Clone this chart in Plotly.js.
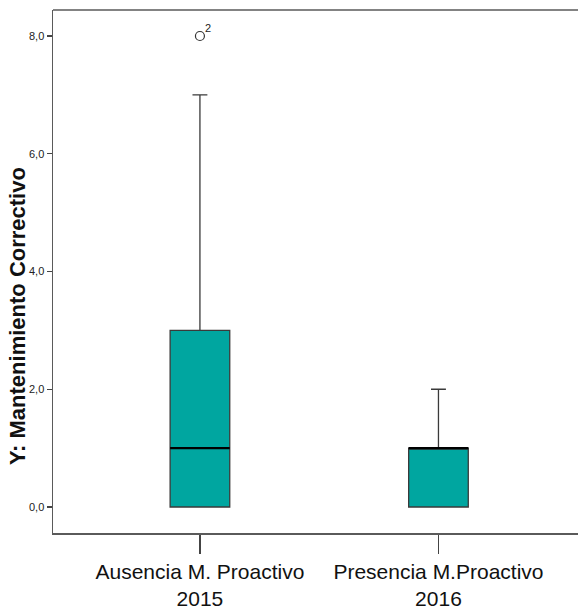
<!DOCTYPE html>
<html>
<head>
<meta charset="utf-8">
<script src="https://cdn.plot.ly/plotly-3.0.1.min.js"></script>
<style>html,body{margin:0;padding:0;background:#fff;overflow:hidden;}#chart{width:578px;height:610px;}</style>
</head>
<body>
<div id="chart"></div>
<script>
// Data
const categories = ['Ausencia M. Proactivo<br>2015', 'Presencia M.Proactivo<br>2016'];
const q1 = [0, 0];
const medians = [1, 1];
const q3 = [3, 1];
const lowerFence = [0, 0];
const upperFence = [7, 2];
const outlierCategory = ['Ausencia M. Proactivo<br>2015'];
const outlierValues = [8];
const outlierIds = ['2'];
const yTicks = [0, 2, 4, 6, 8];

const boxWidth = 0.25;
const fontFamily = 'Liberation Sans, Arial, sans-serif';

const boxTrace = {
  type: 'box',
  x: categories,
  q1: q1,
  median: medians,
  q3: q3,
  lowerfence: lowerFence,
  upperfence: upperFence,
  width: boxWidth,
  whiskerwidth: 0.25,
  fillcolor: '#00A6A0',
  line: {color: '#3a3a3a', width: 1.3},
  boxpoints: false,
  hoverinfo: 'skip'
};

const outlierTrace = {
  type: 'scatter',
  mode: 'markers',
  x: outlierCategory,
  y: outlierValues,
  marker: {symbol: 'circle-open', size: 9, color: '#333', line: {width: 1.2, color: '#333'}},
  hoverinfo: 'skip'
};

const medianShapes = medians.map((m, i) => ({
  type: 'line', xref: 'x', yref: 'y',
  x0: i - boxWidth / 2, x1: i + boxWidth / 2,
  y0: m, y1: m,
  line: {color: '#000', width: 2.2}
}));

const frameShapes = [{
  type: 'line', xref: 'paper', yref: 'paper',
  x0: 0, x1: 1.02, y0: 1, y1: 1,
  line: {color: '#5a5a5a', width: 1.5}
}];

const outlierLabels = outlierValues.map((v, i) => ({
  x: outlierCategory[i], y: v, xref: 'x', yref: 'y',
  text: outlierIds[i], showarrow: false,
  xshift: 8, yshift: 8,
  font: {family: fontFamily, size: 11, color: '#222'}
}));

const layout = {
  width: 578, height: 610,
  margin: {l: 53, r: 0, t: 10, b: 77, pad: 0},
  paper_bgcolor: '#fff', plot_bgcolor: '#fff',
  showlegend: false,
  separators: ',.',
  font: {family: fontFamily, color: '#222'},
  xaxis: {
    type: 'category',
    range: [-0.616, 1.585],
    showline: true, mirror: false, linecolor: '#5a5a5a', linewidth: 1.5,
    showgrid: false, zeroline: false,
    ticks: 'outside', ticklen: 19, tickwidth: 1.3, tickcolor: '#444',
    tickfont: {family: fontFamily, size: 21, color: '#111'}
  },
  yaxis: {
    range: [-0.4416, 8.4416],
    tickvals: yTicks,
    tickformat: '.1f',
    showline: true, mirror: false, linecolor: '#5a5a5a', linewidth: 1.5,
    showgrid: false, zeroline: false,
    ticks: 'outside', ticklen: 5, tickwidth: 1.2, tickcolor: '#444',
    tickfont: {family: fontFamily, size: 11, color: '#222'}
  },
  shapes: frameShapes.concat(medianShapes),
  annotations: outlierLabels.concat([{
    xref: 'paper', yref: 'paper',
    x: -0.0667, y: 0.415, xanchor: 'center', yanchor: 'middle',
    text: '<b>Y: Mantenimiento Correctivo</b>', textangle: -90, showarrow: false,
    font: {family: fontFamily, size: 22, color: '#111'}
  }])
};

Plotly.newPlot('chart', [boxTrace, outlierTrace], layout, {displayModeBar: false, staticPlot: true});
</script>
</body>
</html>
